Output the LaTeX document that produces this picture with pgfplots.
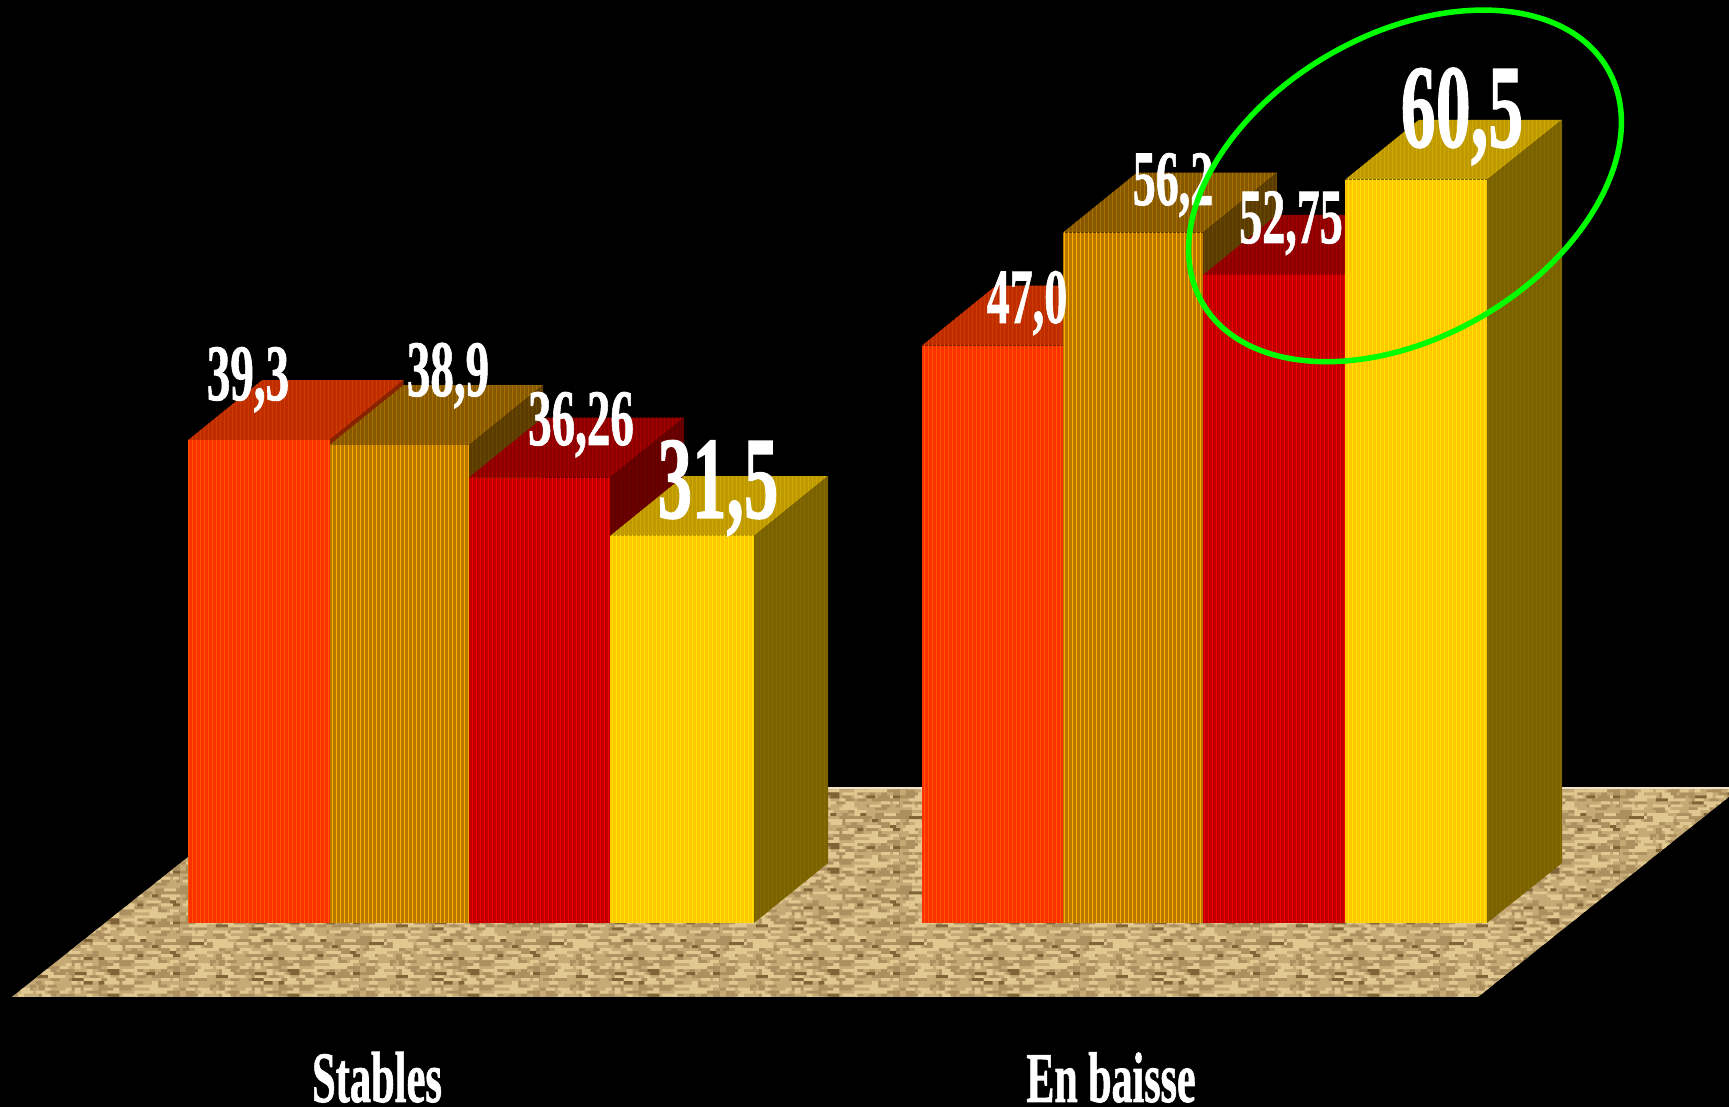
\documentclass[border=0pt]{standalone}
\usepackage{fontspec}
\setmainfont[BoldFeatures={FakeBold=1.2}]{Liberation Serif}
\usepackage{pgfplots}
\pgfplotsset{compat=1.18}
\usetikzlibrary{patterns,patterns.meta,shapes.geometric}

% face colours, named by their own hex value
\newcommand{\hx}[1]{\definecolor{#1}{HTML}{#1}}
\hx{BF2C00}\hx{CC3C00}\hx{882200}\hx{FF3000}\hx{FF5A00}
\hx{865800}\hx{A87000}\hx{5A3C00}\hx{6A4800}\hx{B87800}\hx{FFAE00}
\hx{8C0000}\hx{AA0000}\hx{640000}\hx{700000}\hx{C00000}\hx{F00000}
\hx{BF9900}\hx{CCA800}\hx{7A6200}\hx{866C00}\hx{FFC800}\hx{FFE400}
\hx{C6AA76}\hx{AC9060}\hx{E0C890}\hx{806438}\hx{F0E4C8}

% floor texture: form-only tiles of short blocks, placed by a fixed integer sequence
\newcount\sdc
\newcount\tmpc
\newcount\runc
% #1 name, #2 seed, #3 keep block if step below this
\newcommand{\texlayer}[3]{%
  \pgfdeclarepatternformonly{#1}{\pgfpointorigin}{\pgfqpoint{180bp}{126bp}}{\pgfqpoint{180bp}{126bp}}{%
    \global\sdc=#2
    \foreach \j in {0,...,41}{\foreach \i in {0,...,59}{%
      \tmpc=\sdc \multiply\tmpc by 137 \advance\tmpc by 71
      \global\sdc=\tmpc \divide\tmpc by 1021 \multiply\tmpc by 1021
      \global\advance\sdc by -\tmpc
      \ifnum\sdc<#3
        \runc=\sdc \divide\runc by 3 \multiply\runc by 3 \advance\runc by -\sdc \advance\runc by 4
        \pgfpathrectangle{\pgfpoint{3bp*\i}{3bp*\j}}{\pgfpoint{3bp*\the\runc}{3bp}}%
      \fi
    }}%
    \pgfusepath{fill}%
  }}
\texlayer{texdark}{17}{190}
\texlayer{texlight}{503}{140}
\texlayer{texdeep}{271}{18}

\tikzset{face/.style 2 args={draw=none,fill=#1,postaction={pattern={Lines[angle=90,distance=4bp,line width=1bp]},pattern color=#2}}}

\newcommand{\lab}[4]{\node[anchor=base,inner sep=0pt,text=white] at (axis cs:#1,#2)
  {\fontsize{#3bp}{#3bp}\selectfont\bfseries\scalebox{1}[1.7]{#4}};}

\begin{document}
\begin{tikzpicture}
\begin{axis}[
  width=1729bp,height=1107bp,scale only axis,
  xmin=0,xmax=1729,ymin=-14.978,ymax=75.132,
  ticks=none,axis line style={draw=none},
  axis background/.style={fill=black},
]
% floor
\addplot[draw=none,fill=C6AA76,
  postaction={pattern=texdark,pattern color=AC9060},
  postaction={pattern=texlight,pattern color=E0C890},
  postaction={pattern=texdeep,pattern color=806438}]
  coordinates {(12,-6.02)(1478,-6.02)(1740,10.99)(275,10.99)} --cycle;
\addplot[draw=F0E4C8,line width=1.5bp] coordinates {(275,10.99)(1740,10.99)};

% Stables
\addplot[face={BF2C00}{CC3C00}] coordinates {(188,39.3)(329.5,39.3)(403.5,44.18)(262,44.18)} --cycle;
\addplot[face={882200}{882200}] coordinates {(329.5,0)(329.5,39.3)(403.5,44.18)(403.5,4.88)} --cycle;
\addplot[face={FF3000}{FF5A00}] coordinates {(188,0)(188,39.3)(329.5,39.3)(329.5,0)} --cycle;

\addplot[face={865800}{A87000}] coordinates {(329.5,38.9)(469,38.9)(543,43.78)(403.5,43.78)} --cycle;
\addplot[face={5A3C00}{6A4800}] coordinates {(469,0)(469,38.9)(543,43.78)(543,4.88)} --cycle;
\addplot[face={B87800}{FFAE00}] coordinates {(329.5,0)(329.5,38.9)(469,38.9)(469,0)} --cycle;

\addplot[face={8C0000}{AA0000}] coordinates {(469,36.26)(610,36.26)(684,41.14)(543,41.14)} --cycle;
\addplot[face={640000}{700000}] coordinates {(610,0)(610,36.26)(684,41.14)(684,4.88)} --cycle;
\addplot[face={C00000}{F00000}] coordinates {(469,0)(469,36.26)(610,36.26)(610,0)} --cycle;

\addplot[face={BF9900}{CCA800}] coordinates {(610,31.5)(754,31.5)(828,36.38)(684,36.38)} --cycle;
\addplot[face={7A6200}{866C00}] coordinates {(754,0)(754,31.5)(828,36.38)(828,4.88)} --cycle;
\addplot[face={FFC800}{FFE400}] coordinates {(610,0)(610,31.5)(754,31.5)(754,0)} --cycle;

% En baisse
\addplot[face={BF2C00}{CC3C00}] coordinates {(922,47.0)(1063,47.0)(1137,51.88)(996,51.88)} --cycle;
\addplot[face={882200}{882200}] coordinates {(1063,0)(1063,47.0)(1137,51.88)(1137,4.88)} --cycle;
\addplot[face={FF3000}{FF5A00}] coordinates {(922,0)(922,47.0)(1063,47.0)(1063,0)} --cycle;

\addplot[face={865800}{A87000}] coordinates {(1063,56.2)(1203,56.2)(1277,61.08)(1137,61.08)} --cycle;
\addplot[face={5A3C00}{6A4800}] coordinates {(1203,0)(1203,56.2)(1277,61.08)(1277,4.88)} --cycle;
\addplot[face={B87800}{FFAE00}] coordinates {(1063,0)(1063,56.2)(1203,56.2)(1203,0)} --cycle;

\addplot[face={8C0000}{AA0000}] coordinates {(1203,52.75)(1345,52.75)(1419,57.63)(1277,57.63)} --cycle;
\addplot[face={640000}{700000}] coordinates {(1345,0)(1345,52.75)(1419,57.63)(1419,4.88)} --cycle;
\addplot[face={C00000}{F00000}] coordinates {(1203,0)(1203,52.75)(1345,52.75)(1345,0)} --cycle;

\addplot[face={BF9900}{CCA800}] coordinates {(1345,60.5)(1487,60.5)(1562,65.38)(1419,65.38)} --cycle;
\addplot[face={7A6200}{866C00}] coordinates {(1487,0)(1487,60.5)(1562,65.38)(1562,4.88)} --cycle;
\addplot[face={FFC800}{FFE400}] coordinates {(1345,0)(1345,60.5)(1487,60.5)(1487,0)} --cycle;

% value labels
\lab{248}{42.57}{47}{39,3}
\lab{448}{42.90}{47}{38,9}
\lab{581}{38.91}{47}{36,26}
\lab{718}{32.97}{69}{31,5}
\lab{1027}{48.84}{46}{47,0}
\lab{1173}{58.45}{46}{56,2}
\lab{1291}{55.35}{46}{52,75}
\lab{1462}{63.17}{70}{60,5}
\lab{377}{-14.57}{42.5}{Stables}
\lab{1111}{-14.57}{42}{En baisse}

% highlight
\node[draw=green,line width=5.5bp,ellipse,inner sep=0pt,minimum width=468bp,minimum height=303bp,rotate=30] at (axis cs:1405,60.0) {};
\end{axis}
\end{tikzpicture}
\end{document}
